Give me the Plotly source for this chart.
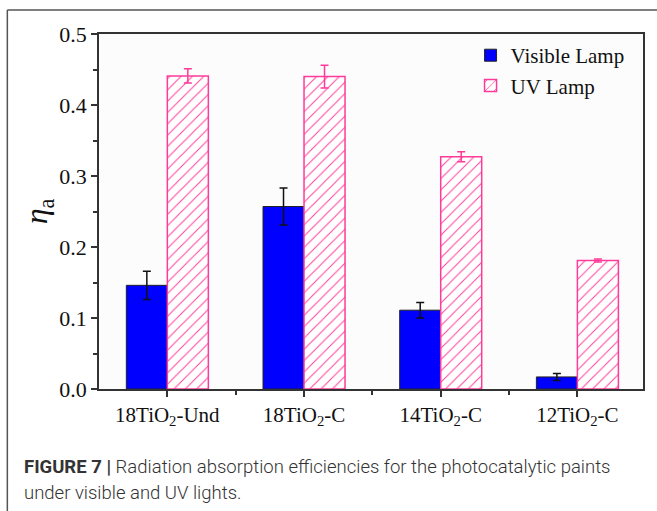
import plotly.graph_objects as go

# Sample names and radiation absorption efficiencies (eta_a)
categories = ["18TiO<sub>2</sub>-Und", "18TiO<sub>2</sub>-C", "14TiO<sub>2</sub>-C", "12TiO<sub>2</sub>-C"]
visible_eta = [0.146, 0.257, 0.111, 0.017]
visible_err = [0.020, 0.026, 0.011, 0.005]
uv_eta = [0.441, 0.440, 0.327, 0.181]
uv_err = [0.010, 0.016, 0.007, 0.002]
y_ticks = [0.0, 0.1, 0.2, 0.3, 0.4, 0.5]

x_pos = list(range(len(categories)))
serif = "Liberation Serif"
pink = "#ff3b9a"

fig = go.Figure()
fig.add_trace(go.Bar(
    x=x_pos, y=visible_eta, name="Visible Lamp",
    marker=dict(color="#0000ff", line=dict(color="#222222", width=1)),
    error_y=dict(type="data", array=visible_err, color="#111111", thickness=1.5, width=4),
))
fig.add_trace(go.Bar(
    x=x_pos, y=uv_eta, name="UV Lamp",
    marker=dict(
        color="white",
        line=dict(color=pink, width=1.5),
        pattern=dict(shape="/", fgcolor=pink, bgcolor="white", size=8, solidity=0.12, fillmode="replace"),
    ),
    error_y=dict(type="data", array=uv_err, color=pink, thickness=1.5, width=4),
))

fig.update_layout(
    width=657, height=511,
    margin=dict(l=99, r=12, t=34, b=122),
    paper_bgcolor="white", plot_bgcolor="#fcfcfc",
    barmode="group", bargap=0.4, bargroupgap=0,
    font=dict(family=serif, size=20, color="#111111"),
    showlegend=True,
    legend=dict(
        x=0.683, y=0.997, xanchor="left", yanchor="top",
        bgcolor="rgba(0,0,0,0)", font=dict(family=serif, size=21, color="#111111"),
        tracegroupgap=2,
    ),
    xaxis=dict(
        range=[-0.5, 3.48], tickvals=x_pos, ticktext=categories,
        showline=True, linecolor="#333333", linewidth=1.5, mirror=True,
        ticks="outside", ticklen=6, tickcolor="#333333", tickwidth=1.5,
        minor=dict(tickvals=[0.5, 1.5, 2.5], ticks="outside", ticklen=4, tickcolor="#333333", tickwidth=1.5),
        showgrid=False, zeroline=False,
        tickfont=dict(family=serif, size=21),
    ),
    yaxis=dict(
        range=[0, 0.5], tickvals=y_ticks, ticktext=[f"{v:.1f}" for v in y_ticks],
        showline=True, linecolor="#333333", linewidth=1.5, mirror=True,
        ticks="outside", ticklen=6, tickcolor="#333333", tickwidth=1.5,
        minor=dict(dtick=0.05, ticks="outside", ticklen=4, tickcolor="#333333", tickwidth=1.5),
        showgrid=False, zeroline=False,
        tickfont=dict(family=serif, size=22),
    ),
)

# Axis title
fig.add_annotation(
    text="<i>η</i><sub>a</sub>", xref="paper", yref="paper",
    x=-0.152, y=0.5, textangle=-90, showarrow=False,
    font=dict(family=serif, size=32, color="#111111"),
)

# Figure caption
cap_font = dict(family="Roboto", size=18.5, color="#333333", weight=300)
fig.add_annotation(
    text="<b>FIGURE 7 |</b> Radiation absorption efficiencies for the photocatalytic paints",
    xref="paper", yref="paper", x=-0.141, y=-0.219, xanchor="left", yanchor="middle",
    showarrow=False, font=cap_font,
)
fig.add_annotation(
    text="under visible and UV lights.",
    xref="paper", yref="paper", x=-0.141, y=-0.293, xanchor="left", yanchor="middle",
    showarrow=False, font=cap_font,
)

# Outer figure frame (left and top edges)
frame = dict(color="#555555", width=1.5)
fig.add_shape(type="line", xref="paper", yref="paper", x0=-0.1685, x1=-0.1685, y0=1.0676, y1=-0.36, line=frame)
fig.add_shape(type="line", xref="paper", yref="paper", x0=-0.1685, x1=1.05, y0=1.0676, y1=1.0676, line=frame)

fig.write_html("out.html")
